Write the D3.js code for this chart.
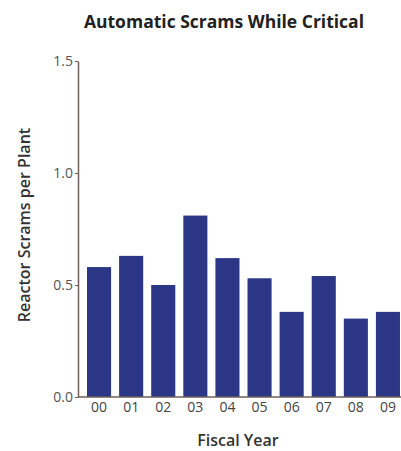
<!DOCTYPE html>
<html>
<head>
<meta charset="utf-8">
<script src="https://cdn.jsdelivr.net/npm/d3@7"></script>
<style>
  body { margin: 0; background: #fff; }
  text { font-family: "Open Sans", sans-serif; }
</style>
</head>
<body>
<div id="chart"></div>
<script>
var years = ["00","01","02","03","04","05","06","07","08","09"];
var scrams = [0.58, 0.63, 0.50, 0.81, 0.62, 0.53, 0.38, 0.54, 0.35, 0.38];
var yTicks = [0.0, 0.5, 1.0, 1.5];

var width = 401, height = 451;
var margin = {top: 61, right: 0, bottom: 54, left: 78};

var svg = d3.select("#chart")
            .append("svg")
            .attr("width", width)
            .attr("height", height);

var x = d3.scaleBand()
        .domain(years)
        .range([83, 404])
        .paddingInner(0.25)
        .paddingOuter(0.125);
var y = d3.scaleLinear()
        .domain([0, 1.5])
        .range([height - margin.bottom, margin.top]);

var axisColor = "#6e5f5a";

// bars
svg.append("g")
    .selectAll("rect")
    .data(scrams)
    .enter()
    .append("rect")
    .attr("x", (d, i) => x(years[i]))
    .attr("y", d => y(d))
    .attr("width", x.bandwidth())
    .attr("height", d => y(0) - y(d))
    .style("fill", "#2b3686");

// y axis
var yAxis = svg.append("g")
    .attr("transform", "translate(" + margin.left + ",0)")
    .call(d3.axisLeft(y).tickValues(yTicks).tickFormat(d3.format(".1f")).tickSize(3).tickSizeOuter(0));
yAxis.select(".domain").attr("stroke", axisColor).attr("stroke-width", 1.5);
yAxis.selectAll(".tick line").attr("stroke", axisColor);
yAxis.selectAll(".tick text")
    .attr("x", -5)
    .style("font-size", "14px")
    .style("fill", "#555");

// x axis
var xAxis = svg.append("g")
    .attr("transform", "translate(0," + y(0) + ")")
    .call(d3.axisBottom(x).tickSize(0).tickSizeOuter(0).tickPadding(5));
xAxis.select(".domain").attr("d", "M" + margin.left + ",0H401").attr("stroke", axisColor).attr("stroke-width", 1.5);
xAxis.selectAll(".tick text")
    .style("font-size", "14px")
    .style("fill", "#444");

// title
svg.append("text")
    .attr("x", 224)
    .attr("y", 28)
    .attr("text-anchor", "middle")
    .style("font-size", "17.5px")
    .style("font-weight", "bold")
    .style("fill", "#222")
    .text("Automatic Scrams While Critical");

// axis titles
svg.append("text")
    .attr("transform", "translate(30,225) rotate(-90)")
    .attr("text-anchor", "middle")
    .style("font-size", "16px")
    .style("font-weight", "600")
    .style("fill", "#333")
    .text("Reactor Scrams per Plant");

svg.append("text")
    .attr("x", 238)
    .attr("y", 446)
    .attr("text-anchor", "middle")
    .style("font-size", "16px")
    .style("font-weight", "600")
    .style("fill", "#333")
    .text("Fiscal Year");
</script>
</body>
</html>
